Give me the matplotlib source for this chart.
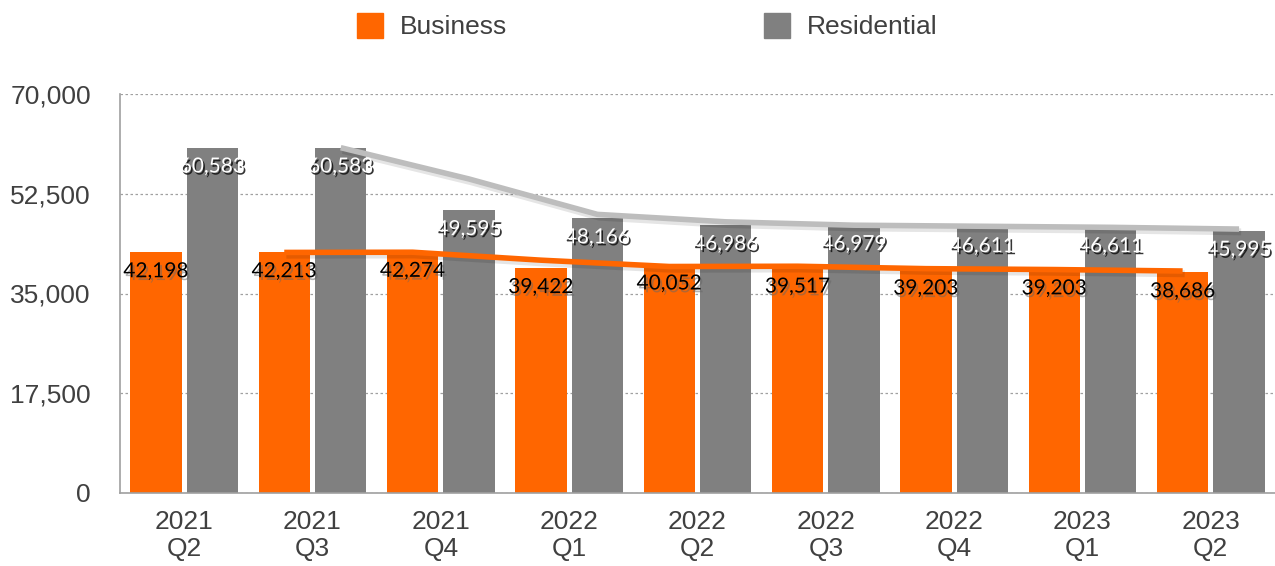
import matplotlib
matplotlib.use("Agg")
import matplotlib.pyplot as plt
import matplotlib.patheffects as pe
from matplotlib.patches import Rectangle
import numpy as np

categories = ["2021\nQ2", "2021\nQ3", "2021\nQ4", "2022\nQ1", "2022\nQ2",
              "2022\nQ3", "2022\nQ4", "2023\nQ1", "2023\nQ2"]
business = [42198, 42213, 42274, 39422, 40052, 39517, 39203, 39203, 38686]
residential = [60583, 60583, 49595, 48166, 46986, 46979, 46611, 46611, 45995]
yticks = [0, 17500, 35000, 52500, 70000]

ORANGE = "#FF6600"
GRAY = "#808080"
TXT = "#404040"

plt.rcParams['font.family'] = ['Liberation Sans', 'DejaVu Sans']

fig = plt.figure(figsize=(12.75, 5.66), dpi=100)
ax = fig.add_axes([120/1275, 73/566, 1155/1275, 399/566])

x = np.arange(len(categories))
w = 0.4
off = 0.22
ax.bar(x - off, business, w, color=ORANGE, zorder=2)
ax.bar(x + off, residential, w, color=GRAY, zorder=2)

# 2-period moving average trend lines
b = np.array(business, float)
r = np.array(residential, float)
b_ma = (b[1:] + b[:-1]) / 2
r_ma = (r[1:] + r[:-1]) / 2
shadow = [pe.SimpleLineShadow(offset=(1.5, -2), alpha=0.1, linewidth=5), pe.Normal()]
ax.plot(x[1:] - off, b_ma, color=ORANGE, lw=4, zorder=3, path_effects=shadow,
        solid_capstyle='butt')
ax.plot(x[1:] + off, r_ma, color="#BDBDBD", lw=4, zorder=3, path_effects=shadow,
        solid_capstyle='butt')

lab_font = ['Lato', 'DejaVu Sans']
for xi, v in zip(x, business):
    ax.text(xi - off, v - 3300, f"{v:,}", ha='center', va='center', fontsize=15,
            color='black', family=lab_font, zorder=5,
            path_effects=[pe.withSimplePatchShadow(offset=(1.5, -2), shadow_rgbFace='#666666', alpha=0.5)])
for xi, v in zip(x, residential):
    ax.text(xi + off, v - 3300, f"{v:,}", ha='center', va='center', fontsize=15,
            color='white', family=lab_font, zorder=5,
            path_effects=[pe.withSimplePatchShadow(offset=(1.2, -1.5), shadow_rgbFace='#111111', alpha=0.85)])

ax.set_xlim(-0.5, len(categories) - 0.5)
ax.set_ylim(0, 70000)
ax.set_yticks(yticks)
ax.set_yticklabels([f"{t:,}" for t in yticks])
ax.set_xticks(x)
ax.set_xticklabels(categories, linespacing=1.2)
ax.tick_params(axis='both', length=0, labelsize=19, colors=TXT)
ax.tick_params(axis='x', pad=12)
ax.tick_params(axis='y', pad=21)
ax.yaxis.grid(True, linestyle=(0, (2, 2)), color='#A0A0A0', lw=0.9, zorder=0)
ax.set_axisbelow(True)
for s in ['top', 'right']:
    ax.spines[s].set_visible(False)
for s in ['left', 'bottom']:
    ax.spines[s].set_color('#A0A0A0')
    ax.spines[s].set_linewidth(1.2)

# legend
for x0, col, label in [(357, ORANGE, "Business"), (764, GRAY, "Residential")]:
    fig.patches.append(Rectangle((x0/1275, 1 - 38/566), 26/1275, 25/566,
                                 transform=fig.transFigure, color=col))
    fig.text((x0 + 43)/1275, 1 - 27/566, label, ha='left', va='center',
             fontsize=19, color=TXT)

fig.savefig("out.png", dpi=100)
